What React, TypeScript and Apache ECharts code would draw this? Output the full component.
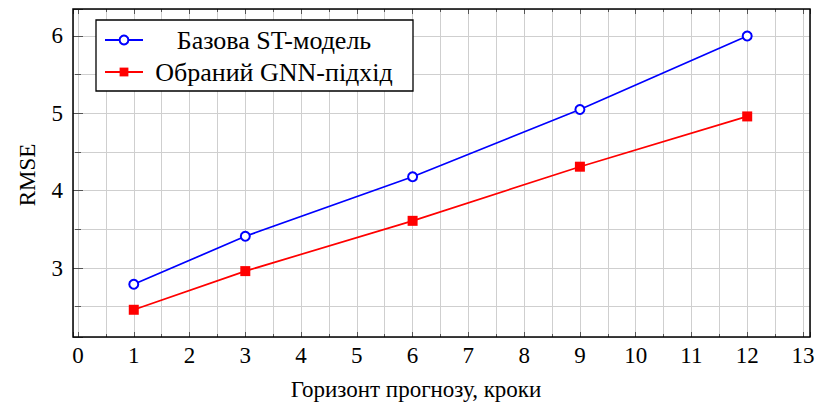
import React, { useEffect, useRef } from "react";
import * as echarts from "echarts";

const horizons = [1, 3, 6, 9, 12];
const baselineRmse = [2.79, 3.41, 4.18, 5.05, 6.0];
const gnnRmse = [2.46, 2.96, 3.61, 4.31, 4.96];
const seriesNames = ["Базова ST-модель", "Обраний GNN-підхід"];
const xTitle = "Горизонт прогнозу, кроки";
const yTitle = "RMSE";

const FONT = "Liberation Serif";

export default function App() {
  const ref = useRef<HTMLDivElement>(null);
  useEffect(() => {
    if (!ref.current) return;
    const chart = echarts.init(ref.current, undefined, { renderer: "svg" });
    const intLabel = (v: number) => (Math.abs(v - Math.round(v)) < 1e-6 ? String(Math.round(v)) : "");
    const gridLine = { show: true, lineStyle: { color: "#cfcfcf", width: 1 } };
    const tick = { show: true, inside: true, length: 5, lineStyle: { color: "#555", width: 1 } };
    const minorTick = { show: true, splitNumber: 2, length: 3, lineStyle: { color: "#555", width: 1 } };
    const xRange = { min: -0.0897, max: 13.126, splitNumber: 13 };
    const yRange = { min: 2.108, max: 6.349, splitNumber: 4 };
    chart.setOption({
      animation: false,
      textStyle: { fontFamily: FONT },
      grid: { left: 73, right: 9, top: 9, bottom: 72, containLabel: false },
      xAxis: [
        {
          type: "value",
          ...xRange,
          axisLine: { show: false },
          axisTick: tick,
          minorTick,
          splitLine: gridLine,
          minorSplitLine: gridLine,
          axisLabel: {
            formatter: intLabel,
            fontFamily: FONT,
            fontSize: 23,
            color: "#000",
            margin: 7,
          },
        },
        {
          type: "value",
          position: "top",
          ...xRange,
          axisLine: { show: false },
          axisTick: tick,
          minorTick,
          splitLine: { show: false },
          axisLabel: { show: false },
        },
      ],
      yAxis: [
        {
          type: "value",
          ...yRange,
          axisLine: { show: false },
          axisTick: tick,
          minorTick,
          splitLine: gridLine,
          minorSplitLine: gridLine,
          axisLabel: {
            formatter: intLabel,
            fontFamily: FONT,
            fontSize: 23,
            color: "#000",
            margin: 10,
          },
        },
        {
          type: "value",
          position: "right",
          ...yRange,
          axisLine: { show: false },
          axisTick: tick,
          minorTick,
          splitLine: { show: false },
          axisLabel: { show: false },
        },
      ],
      legend: {
        data: seriesNames,
        orient: "vertical",
        left: 96,
        top: 20,
        backgroundColor: "#fff",
        borderColor: "#000",
        borderWidth: 1.3,
        padding: [7, 13, 6, 8],
        itemWidth: 38,
        itemHeight: 11,
        itemGap: 6,
        formatter: (name: string) => `{a|${name}}`,
        textStyle: {
          fontFamily: FONT,
          rich: {
            a: {
              width: 252,
              align: "center",
              fontFamily: FONT,
              fontSize: 26,
              lineHeight: 26,
              color: "#000",
            },
          },
        },
      },
      graphic: [
        {
          type: "rect",
          z: 100,
          shape: { x: 73, y: 9, width: 737, height: 328 },
          style: { fill: "none", stroke: "#000", lineWidth: 1.5 },
          silent: true,
        },
        {
          type: "text",
          x: 416,
          y: 389,
          style: {
            text: xTitle,
            fontFamily: FONT,
            fontSize: 23,
            fill: "#000",
            textAlign: "center",
            textVerticalAlign: "middle",
          },
        },
        {
          type: "text",
          x: 27,
          y: 175,
          rotation: Math.PI / 2,
          style: {
            text: yTitle,
            fontFamily: FONT,
            fontSize: 23,
            fill: "#000",
            textAlign: "center",
            textVerticalAlign: "middle",
          },
        },
      ],
      series: [
        {
          name: seriesNames[0],
          type: "line",
          data: horizons.map((h, i) => [h, baselineRmse[i]]),
          symbol: "emptyCircle",
          symbolSize: 9,
          color: "#0000ff",
          lineStyle: { color: "#0000ff", width: 1.7 },
          itemStyle: { color: "#0000ff", borderColor: "#0000ff", borderWidth: 1.6 },
          z: 5,
        },
        {
          name: seriesNames[1],
          type: "line",
          data: horizons.map((h, i) => [h, gnnRmse[i]]),
          symbol: "rect",
          symbolSize: 10,
          color: "#ff0000",
          lineStyle: { color: "#ff0000", width: 1.7 },
          itemStyle: { color: "#ff0000" },
          z: 5,
        },
      ],
    });
    return () => chart.dispose();
  }, []);
  return <div ref={ref} style={{ width: 819, height: 409, position: "absolute", left: 0, top: 0 }} />;
}
